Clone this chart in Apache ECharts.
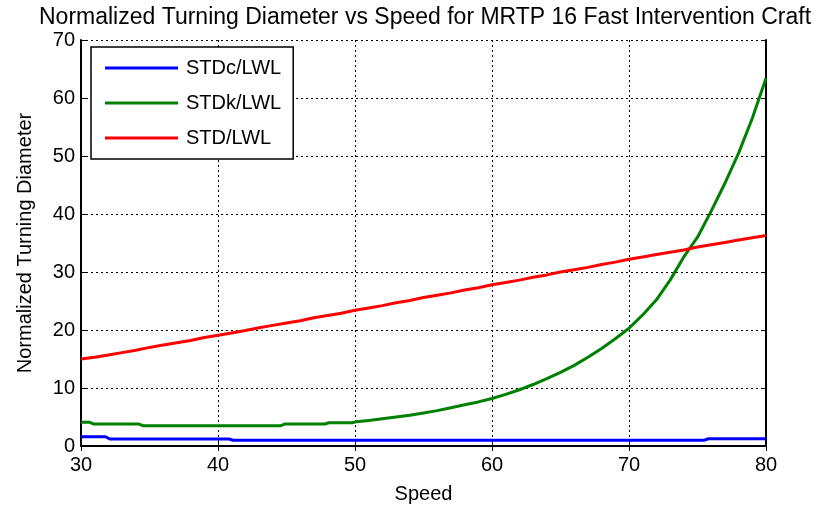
<!DOCTYPE html>
<html>
<head>
<meta charset="utf-8">
<script src="https://cdn.jsdelivr.net/npm/echarts@6/dist/echarts.min.js"></script>
<style>html,body{margin:0;padding:0;background:#fff}#c{width:818px;height:513px}</style>
</head>
<body>
<div id="c"></div>
<script>
const titleText = 'Normalized Turning Diameter vs Speed for MRTP 16 Fast Intervention Craft';
const xLabel = 'Speed';
const yLabel = 'Normalized Turning Diameter';
const seriesNames = ['STDc/LWL', 'STDk/LWL', 'STD/LWL'];

const stdcSpeed = [30, 31.8, 32.1, 40.8, 41.1, 75.5, 75.8, 80];
const stdcVals  = [1.6, 1.6, 1.2, 1.2, 1.0, 1.0, 1.25, 1.25];

const stdkSpeed = [30, 30.6, 30.9, 34.2, 34.5, 44.6, 44.9, 47.8, 48.1, 49.8, 50.1,
  51, 52, 53, 54, 55, 56, 57, 58, 59, 60, 61, 62, 63, 64, 65, 66, 67, 68, 69, 70,
  71, 72, 73, 74, 75, 76, 77, 78, 79, 80];
const stdkVals  = [4.1, 4.1, 3.8, 3.8, 3.5, 3.5, 3.8, 3.8, 4.0, 4.0, 4.2,
  4.4, 4.7, 5.0, 5.3, 5.7, 6.1, 6.6, 7.1, 7.6, 8.2, 8.9, 9.7, 10.6, 11.6, 12.7, 13.9, 15.3, 16.8, 18.5, 20.3,
  22.6, 25.2, 28.6, 32.6, 36.0, 40.5, 45.3, 50.5, 56.5, 63.4];

const stdSpeed = [30, 31, 32, 33, 34, 35, 36, 37, 38, 39, 40, 41, 42, 43, 44, 45, 46, 47, 48, 49, 50,
  51, 52, 53, 54, 55, 56, 57, 58, 59, 60, 61, 62, 63, 64, 65, 66, 67, 68, 69, 70,
  71, 72, 73, 74, 75, 76, 77, 78, 79, 80];
const stdVals = [15.0, 15.3, 15.7, 16.1, 16.5, 17.0, 17.4, 17.8, 18.2, 18.7, 19.1,
  19.5, 19.9, 20.4, 20.8, 21.2, 21.6, 22.1, 22.5, 22.9, 23.4,
  23.8, 24.2, 24.7, 25.1, 25.6, 26.0, 26.4, 26.9, 27.3, 27.8,
  28.2, 28.6, 29.1, 29.5, 30.0, 30.4, 30.8, 31.3, 31.7, 32.2,
  32.6, 33.0, 33.4, 33.8, 34.3, 34.7, 35.1, 35.5, 35.9, 36.3];

const xTicks = [30, 40, 50, 60, 70, 80];
const yTicks = [0, 10, 20, 30, 40, 50, 60, 70];

const pairs = (xs, ys) => xs.map((x, i) => [x, ys[i]]);
const FONT = 'Liberation Sans';
const colors = ['#0000ff', '#008000', '#ff0000'];

const chart = echarts.init(document.getElementById('c'), null, {renderer: 'canvas'});
const gridLine = {show: true, lineStyle: {color: '#000', type: [2, 3], width: 1}};
const axisLine = {show: true, lineStyle: {color: '#000', width: 2}};
chart.setOption({
  animation: false,
  backgroundColor: '#fff',
  color: colors,
  title: {
    text: titleText, left: 34, top: 1,
    textStyle: {fontFamily: FONT, fontSize: 23, fontWeight: 'normal', color: '#000'}
  },
  grid: {left: 81, right: 52, top: 40, bottom: 67, containLabel: false},
  legend: {
    orient: 'vertical', left: 91, top: 47,
    data: seriesNames,
    icon: 'rect', itemWidth: 73, itemHeight: 3, itemGap: 13,
    padding: [10, 12, 10, 14],
    borderColor: '#000', borderWidth: 1.5, backgroundColor: '#fff',
    textStyle: {fontFamily: FONT, fontSize: 20, color: '#000', lineHeight: 22, padding: [0, 0, 0, 3]}
  },
  xAxis: [{
    type: 'value', min: 30, max: 80, interval: 10, position: 'bottom',
    name: xLabel, nameLocation: 'middle', nameGap: 38,
    nameTextStyle: {fontFamily: FONT, fontSize: 20, color: '#000'},
    axisLine: axisLine,
    axisTick: {show: true, inside: true, length: 5, lineStyle: {color: '#000'}},
    axisLabel: {fontFamily: FONT, fontSize: 20, color: '#000', margin: 9,
      formatter: v => xTicks.includes(v) ? String(v) : ''},
    splitLine: gridLine
  }, {
    type: 'value', min: 30, max: 80, interval: 10, position: 'top',
    axisLine: axisLine,
    axisTick: {show: true, inside: true, length: 5, lineStyle: {color: '#000'}},
    axisLabel: {show: false}, splitLine: {show: false}
  }],
  yAxis: [{
    type: 'value', min: 0, max: 70, interval: 10, position: 'left',
    name: yLabel, nameLocation: 'middle', nameGap: 46, nameRotate: 90,
    nameTextStyle: {fontFamily: FONT, fontSize: 20, color: '#000'},
    axisLine: axisLine,
    axisTick: {show: true, inside: true, length: 5, lineStyle: {color: '#000'}},
    axisLabel: {fontFamily: FONT, fontSize: 20, color: '#000', margin: 6,
      formatter: v => yTicks.includes(v) ? String(v) : ''},
    splitLine: gridLine
  }, {
    type: 'value', min: 0, max: 70, interval: 10, position: 'right',
    axisLine: axisLine,
    axisTick: {show: true, inside: true, length: 5, lineStyle: {color: '#000'}},
    axisLabel: {show: false}, splitLine: {show: false}
  }],
  series: [
    {name: seriesNames[0], type: 'line', data: pairs(stdcSpeed, stdcVals), showSymbol: false, lineStyle: {width: 3, color: colors[0]}, z: 5},
    {name: seriesNames[1], type: 'line', data: pairs(stdkSpeed, stdkVals), showSymbol: false, lineStyle: {width: 3, color: colors[1]}, z: 5},
    {name: seriesNames[2], type: 'line', data: pairs(stdSpeed, stdVals), showSymbol: false, lineStyle: {width: 3, color: colors[2]}, z: 5}
  ]
});
</script>
</body>
</html>
